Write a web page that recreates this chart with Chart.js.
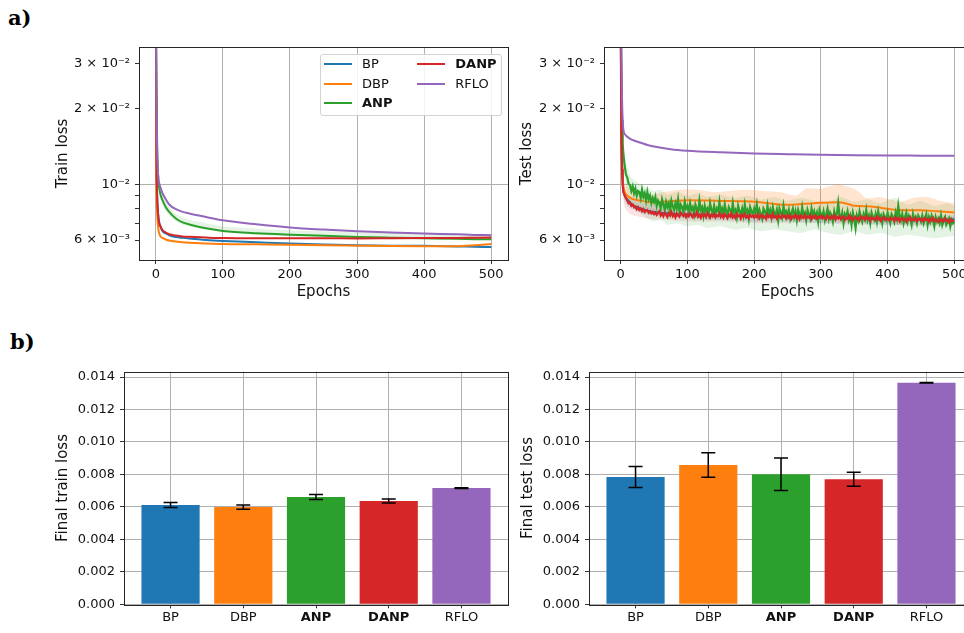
<!DOCTYPE html>
<html>
<head>
<meta charset="utf-8">
<script src="https://cdn.jsdelivr.net/npm/chart.js@4.4.0/dist/chart.umd.min.js"></script>
<style>
  html, body { margin: 0; padding: 0; background: #fff; overflow: hidden; width: 964px; height: 633px; }
  body { position: relative; font-family: "DejaVu Sans", sans-serif; }
  canvas { position: absolute; }
  .panel { position: absolute; font-family: "DejaVu Serif", serif; font-weight: bold; font-size: 21px; line-height: 21px; color: #000; }
  #legend { position: absolute; left: 320px; top: 54px; width: 180px; height: 60px; border: 1px solid #d4d4d4; border-radius: 3px; background: rgba(255,255,255,0.85); z-index: 5; }
  #legend .item { position: absolute; height: 16px; width: 90px; }
  #legend .handle { position: absolute; left: 3px; top: 7px; width: 28px; height: 2px; }
  #legend .lbl { position: absolute; left: 41px; top: 0; font-size: 13px; line-height: 16px; color: #111; white-space: nowrap; }
</style>
</head>
<body>
<div class="panel" style="left:8px;top:7px">a)</div>
<div class="panel" style="left:10px;top:331px">b)</div>
<canvas id="trainCurve" width="512" height="310" style="left:0;top:0"></canvas>
<canvas id="testCurve" width="495" height="310" style="left:480px;top:0"></canvas>
<canvas id="trainBar" width="512" height="313" style="left:0;top:320px"></canvas>
<canvas id="testBar" width="497" height="313" style="left:480px;top:320px"></canvas>
<div id="legend"></div>
<script>
// methods and colours
const methods = ['BP', 'DBP', 'ANP', 'DANP', 'RFLO'];
const boldMethods = ['ANP', 'DANP'];
const colors = ['#1f77b4', '#ff7f0e', '#2ca02c', '#d62728', '#9467bd'];
const bandColors = ['rgba(31,119,180,0.15)', 'rgba(255,127,14,0.2)', 'rgba(44,160,44,0.13)', 'rgba(214,39,40,0.13)', 'rgba(148,103,189,0.2)'];

// a) train loss curves
const trainEpochs = [0, 1, 2, 3, 4, 5, 7, 10, 15, 20, 30, 40, 50, 75, 100, 150, 200, 250, 300, 350, 400, 450, 475, 500];
const trainBP = [0.06, 0.014, 0.0092, 0.0080, 0.0074, 0.0071, 0.0068, 0.0065, 0.00637, 0.00627, 0.00617, 0.00612, 0.00608, 0.00600, 0.00595, 0.00588, 0.00581, 0.00576, 0.00572, 0.00570, 0.00569, 0.00566, 0.00564, 0.00563];
const trainDBP = [0.06, 0.011, 0.0078, 0.0070, 0.0066, 0.0064, 0.0062, 0.00612, 0.00603, 0.00597, 0.00592, 0.00588, 0.00586, 0.00582, 0.00579, 0.00577, 0.00575, 0.00572, 0.00570, 0.00568, 0.00567, 0.00567, 0.00572, 0.00579];
const trainANP = [0.07, 0.025, 0.0145, 0.0115, 0.0103, 0.0097, 0.0091, 0.00864, 0.00810, 0.00776, 0.00730, 0.00705, 0.00692, 0.00668, 0.00652, 0.00638, 0.00630, 0.00624, 0.00617, 0.00613, 0.00610, 0.00607, 0.00605, 0.00604];
const trainDANP = [0.06, 0.013, 0.0090, 0.0079, 0.0073, 0.0070, 0.0068, 0.00657, 0.00642, 0.00633, 0.00625, 0.00620, 0.00618, 0.00614, 0.00611, 0.00610, 0.00610, 0.00610, 0.00609, 0.00610, 0.00611, 0.00612, 0.00613, 0.00614];
const trainRFLO = [0.08, 0.022, 0.014, 0.0115, 0.0105, 0.0101, 0.0097, 0.0092, 0.0087, 0.0083, 0.00795, 0.00776, 0.00765, 0.00741, 0.00719, 0.00693, 0.00673, 0.00660, 0.00650, 0.00643, 0.00637, 0.00632, 0.00629, 0.00627];
const trainANPHigh = [0.07, 0.026, 0.0150, 0.0119, 0.0107, 0.0101, 0.0095, 0.0090, 0.0085, 0.0081, 0.0076, 0.0074, 0.0072, 0.0070, 0.0068, 0.00665, 0.00655, 0.00650, 0.00643, 0.00640, 0.00637, 0.00634, 0.00632, 0.00630];
const trainANPLow = [0.07, 0.024, 0.0140, 0.0111, 0.0099, 0.0093, 0.0087, 0.0083, 0.0078, 0.0075, 0.0071, 0.0069, 0.0068, 0.0066, 0.0065, 0.0063, 0.0062, 0.00615, 0.0061, 0.00605, 0.00603, 0.00601, 0.00600, 0.00599];

// a) test loss curves
const testEpochs = [0, 1, 2, 3, 4, 5, 7, 10, 15, 20, 30, 40, 50, 75, 100, 150, 200, 250, 300, 350, 400, 450, 500];
const testRFLO = [0.08, 0.035, 0.022, 0.0178, 0.0165, 0.0160, 0.0157, 0.0154, 0.0151, 0.0149, 0.0146, 0.0143, 0.0141, 0.01375, 0.01356, 0.01337, 0.01324, 0.01315, 0.01307, 0.01302, 0.01299, 0.01297, 0.01295];
const testBP = [0.05, 0.017, 0.0120, 0.0102, 0.0095, 0.0092, 0.0089, 0.0087, 0.0084, 0.0082, 0.0080, 0.00785, 0.00775, 0.00765, 0.00760, 0.00752, 0.00746, 0.00742, 0.00740, 0.00735, 0.00730, 0.00727, 0.00725];
const testBPHigh = [0.05, 0.018, 0.0128, 0.0108, 0.0100, 0.0097, 0.0093, 0.0090, 0.0088, 0.0087, 0.0085, 0.0084, 0.0083, 0.0081, 0.0080, 0.0079, 0.0078, 0.0077, 0.0077, 0.0076, 0.0076, 0.0075, 0.0075];
const testBPLow = [0.05, 0.016, 0.0112, 0.0096, 0.0090, 0.0087, 0.0084, 0.0082, 0.0080, 0.0079, 0.0077, 0.0076, 0.0075, 0.0074, 0.0073, 0.0072, 0.0071, 0.0071, 0.0070, 0.0070, 0.0069, 0.0069, 0.0069];
const testDANPHigh = [0.05, 0.017, 0.0125, 0.0106, 0.0099, 0.0095, 0.0091, 0.0088, 0.0085, 0.0084, 0.0082, 0.0081, 0.0080, 0.0079, 0.0078, 0.00775, 0.0077, 0.00765, 0.0076, 0.0075, 0.0075, 0.0074, 0.0074];
const testDANPLow = [0.05, 0.015, 0.0106, 0.0092, 0.0087, 0.0083, 0.0080, 0.0078, 0.0076, 0.0075, 0.0074, 0.0073, 0.00725, 0.0072, 0.0071, 0.0071, 0.0070, 0.0070, 0.0070, 0.0069, 0.0069, 0.0068, 0.0068];

const testDBPEpochs = [0, 1, 2, 3, 4, 5, 7, 10, 15, 20, 30, 40, 50, 75, 100, 150, 175, 200, 225, 250, 275, 300, 325, 340, 350, 375, 400, 425, 450, 475, 500];
const testDBP = [0.05, 0.018, 0.0125, 0.0105, 0.0098, 0.0095, 0.0092, 0.0090, 0.0088, 0.0087, 0.0086, 0.0085, 0.00848, 0.00855, 0.00864, 0.00858, 0.00855, 0.00852, 0.00838, 0.00828, 0.00835, 0.00843, 0.00847, 0.00835, 0.00820, 0.00815, 0.00798, 0.00788, 0.00788, 0.00780, 0.00772];
const testDBPBandEpochs = [5, 10, 20, 40, 64, 89, 114, 139, 164, 189, 214, 238, 263, 278, 300, 326, 353, 368, 388, 403, 420, 438, 460, 478, 500];
const testDBPHigh = [0.0102, 0.0098, 0.0094, 0.0090, 0.0093, 0.0095, 0.0095, 0.0093, 0.0094, 0.0095, 0.0094, 0.0093, 0.0090, 0.0096, 0.0096, 0.0100, 0.0095, 0.0088, 0.0089, 0.0087, 0.0085, 0.0088, 0.0089, 0.0086, 0.0084];
const testDBPLow = [0.0088, 0.0083, 0.0081, 0.0080, 0.0077, 0.0078, 0.0078, 0.0078, 0.0077, 0.0076, 0.0076, 0.0074, 0.0075, 0.0073, 0.0073, 0.0071, 0.0071, 0.0075, 0.0071, 0.0073, 0.0069, 0.0073, 0.0071, 0.0072, 0.0071];

// noisy curves, one value every 2 epochs after epoch 3
const testDenseEpochs = [0, 1, 2, 3];
for (let e = 4; e <= 500; e += 2) testDenseEpochs.push(e);
const testANP = [0.05, 0.028, 0.018, 0.0145,
  13.2e-3, 11.8e-3, 10.9e-3, 10.6e-3, 10.0e-3, 9.9e-3, 9.4e-3, 9.8e-3, 9.2e-3, 9.6e-3, 9.0e-3, 9.4e-3, 9.3e-3, 8.8e-3, 9.5e-3, 8.9e-3, 9.2e-3, 8.6e-3, 9.3e-3, 8.7e-3, 9.0e-3, 8.4e-3, 8.8e-3, 8.5e-3,
  8.9e-3, 8.2e-3, 8.6e-3, 8.4e-3, 8.0e-3, 8.7e-3, 8.3e-3, 7.9e-3, 8.5e-3, 8.1e-3, 8.4e-3, 7.8e-3, 8.6e-3, 8.2e-3, 7.9e-3, 8.4e-3, 8.0e-3, 8.7e-3, 7.8e-3, 8.3e-3, 8.1e-3, 7.7e-3, 8.5e-3, 8.0e-3, 8.2e-3,
  7.8e-3, 8.4e-3, 7.9e-3, 8.1e-3, 7.6e-3, 8.3e-3, 8.0e-3, 7.7e-3, 8.6e-3, 7.9e-3, 8.1e-3, 7.5e-3, 8.2e-3, 7.8e-3, 8.0e-3, 7.6e-3, 8.4e-3, 7.9e-3, 7.7e-3, 8.2e-3, 7.6e-3, 8.0e-3, 7.8e-3, 8.5e-3, 7.7e-3,
  8.0e-3, 7.6e-3, 8.3e-3, 7.8e-3, 7.5e-3, 8.1e-3, 7.9e-3, 7.6e-3, 8.4e-3, 7.7e-3, 7.9e-3, 7.4e-3, 8.2e-3, 7.8e-3, 7.6e-3, 8.0e-3, 7.5e-3, 8.3e-3, 7.7e-3, 7.9e-3, 7.3e-3, 8.1e-3, 7.8e-3, 7.6e-3, 8.0e-3,
  7.7e-3, 8.3e-3, 7.5e-3, 7.9e-3, 7.6e-3, 7.3e-3, 8.0e-3, 7.8e-3, 7.5e-3, 8.2e-3, 7.6e-3, 7.9e-3, 7.4e-3, 8.1e-3, 7.7e-3, 7.5e-3, 7.9e-3, 7.2e-3, 8.0e-3, 7.7e-3, 7.4e-3, 8.2e-3, 7.6e-3, 7.8e-3, 7.5e-3,
  7.9e-3, 7.3e-3, 7.7e-3, 8.0e-3, 7.4e-3, 7.8e-3, 7.2e-3, 7.9e-3, 7.6e-3, 7.4e-3, 8.1e-3, 7.5e-3, 7.7e-3, 7.2e-3, 7.9e-3, 7.6e-3, 7.3e-3, 8.0e-3, 7.5e-3, 7.8e-3, 7.4e-3, 7.7e-3, 7.1e-3, 7.9e-3, 7.6e-3,
  7.4e-3, 7.8e-3, 7.2e-3, 7.6e-3, 8.0e-3, 7.3e-3, 7.7e-3, 7.5e-3, 7.1e-3, 7.8e-3, 7.4e-3, 7.6e-3, 8.4e-3, 7.5e-3, 7.3e-3, 7.7e-3, 7.0e-3, 7.6e-3, 7.4e-3, 7.8e-3, 7.2e-3, 7.5e-3, 6.9e-3, 7.7e-3, 7.3e-3,
  6.7e-3, 7.5e-3, 7.2e-3, 7.8e-3, 7.4e-3, 7.1e-3, 7.6e-3, 7.3e-3, 7.9e-3, 7.2e-3, 7.5e-3, 7.0e-3, 7.7e-3, 7.4e-3, 7.2e-3, 7.6e-3, 7.1e-3, 7.8e-3, 7.3e-3, 7.5e-3, 7.0e-3, 7.6e-3, 7.4e-3, 7.2e-3, 7.7e-3,
  7.3e-3, 7.0e-3, 7.6e-3, 7.4e-3, 7.1e-3, 7.7e-3, 7.3e-3, 8.2e-3, 7.5e-3, 7.2e-3, 7.6e-3, 7.0e-3, 7.4e-3, 7.7e-3, 7.1e-3, 7.5e-3, 7.3e-3, 6.9e-3, 7.6e-3, 7.2e-3, 7.4e-3, 7.0e-3, 7.5e-3, 7.3e-3, 7.1e-3,
  7.5e-3, 7.0e-3, 7.3e-3, 7.6e-3, 6.9e-3, 7.4e-3, 7.1e-3, 7.5e-3, 7.2e-3, 6.8e-3, 7.4e-3, 7.1e-3, 7.3e-3, 7.0e-3, 7.5e-3, 6.9e-3, 7.2e-3, 7.4e-3, 6.9e-3, 7.1e-3, 7.3e-3, 6.8e-3, 7.2e-3, 7.0e-3, 7.1e-3];
const testDANP = [0.05, 0.016, 0.0115, 0.0099,
  9.3e-3, 9.0e-3, 8.8e-3, 8.6e-3, 8.4e-3, 8.45e-3, 8.2e-3, 8.3e-3, 8.1e-3, 8.15e-3, 7.95e-3, 8.1e-3, 7.9e-3, 8.0e-3, 7.8e-3, 7.95e-3, 7.75e-3, 7.85e-3, 7.9e-3, 7.7e-3, 7.8e-3, 7.65e-3, 7.75e-3, 7.6e-3,
  7.72e-3, 7.55e-3, 7.68e-3, 7.8e-3, 7.5e-3, 7.62e-3, 7.45e-3, 7.7e-3, 7.56e-3, 7.4e-3, 7.66e-3, 7.52e-3, 7.75e-3, 7.46e-3, 7.6e-3, 7.38e-3, 7.64e-3, 7.5e-3, 7.42e-3, 7.7e-3, 7.55e-3, 7.47e-3, 7.62e-3, 7.4e-3, 7.58e-3,
  7.45e-3, 7.66e-3, 7.5e-3, 7.38e-3, 7.6e-3, 7.48e-3, 7.72e-3, 7.42e-3, 7.55e-3, 7.35e-3, 7.62e-3, 7.46e-3, 7.58e-3, 7.4e-3, 7.68e-3, 7.5e-3, 7.36e-3, 7.57e-3, 7.44e-3, 7.62e-3, 7.38e-3, 7.52e-3, 7.45e-3, 7.65e-3, 7.4e-3,
  7.55e-3, 7.36e-3, 7.6e-3, 7.47e-3, 7.32e-3, 7.58e-3, 7.44e-3, 7.66e-3, 7.38e-3, 7.5e-3, 7.34e-3, 7.62e-3, 7.45e-3, 7.53e-3, 7.3e-3, 7.56e-3, 7.42e-3, 7.6e-3, 7.37e-3, 7.48e-3, 7.33e-3, 7.57e-3, 7.43e-3, 7.5e-3, 7.35e-3,
  7.52e-3, 7.4e-3, 7.6e-3, 7.32e-3, 7.47e-3, 7.55e-3, 7.36e-3, 7.44e-3, 7.28e-3, 7.58e-3, 7.41e-3, 7.5e-3, 7.34e-3, 7.62e-3, 7.38e-3, 7.46e-3, 7.3e-3, 7.54e-3, 7.4e-3, 7.33e-3, 7.56e-3, 7.42e-3, 7.48e-3, 7.3e-3, 7.5e-3,
  7.36e-3, 7.52e-3, 7.28e-3, 7.45e-3, 7.38e-3, 7.55e-3, 7.32e-3, 7.47e-3, 7.26e-3, 7.5e-3, 7.4e-3, 7.34e-3, 7.56e-3, 7.3e-3, 7.44e-3, 7.37e-3, 7.52e-3, 7.27e-3, 7.46e-3, 7.35e-3, 7.5e-3, 7.29e-3, 7.42e-3, 7.36e-3, 7.48e-3,
  7.3e-3, 7.45e-3, 7.34e-3, 7.25e-3, 7.5e-3, 7.38e-3, 7.28e-3, 7.46e-3, 7.33e-3, 7.52e-3, 7.24e-3, 7.4e-3, 7.31e-3, 7.47e-3, 7.26e-3, 7.38e-3, 7.44e-3, 7.22e-3, 7.36e-3, 7.3e-3, 7.48e-3, 7.25e-3, 7.4e-3, 7.2e-3, 7.34e-3,
  7.42e-3, 7.26e-3, 7.35e-3, 7.18e-3, 7.44e-3, 7.3e-3, 7.38e-3, 7.22e-3, 7.46e-3, 7.28e-3, 7.34e-3, 7.16e-3, 7.4e-3, 7.27e-3, 7.32e-3, 7.2e-3, 7.42e-3, 7.24e-3, 7.36e-3, 7.15e-3, 7.3e-3, 7.38e-3, 7.21e-3, 7.33e-3, 7.25e-3,
  7.18e-3, 7.36e-3, 7.24e-3, 7.3e-3, 7.14e-3, 7.38e-3, 7.22e-3, 7.33e-3, 7.12e-3, 7.28e-3, 7.35e-3, 7.2e-3, 7.26e-3, 7.1e-3, 7.32e-3, 7.22e-3, 7.37e-3, 7.16e-3, 7.27e-3, 7.2e-3, 7.34e-3, 7.12e-3, 7.25e-3, 7.3e-3, 7.17e-3,
  7.28e-3, 7.14e-3, 7.33e-3, 7.2e-3, 7.26e-3, 7.1e-3, 7.3e-3, 7.18e-3, 7.35e-3, 7.12e-3, 7.24e-3, 7.19e-3, 7.08e-3, 7.28e-3, 7.15e-3, 7.22e-3, 7.1e-3, 7.3e-3, 7.16e-3, 7.2e-3, 7.06e-3, 7.25e-3, 7.12e-3, 7.18e-3, 7.14e-3];
const testANPBandEpochs = [4, 8, 12, 16, 24, 32, 40, 50, 60, 70, 85, 100, 115, 130, 150, 170, 190, 210, 230, 250, 270, 290, 310, 330, 350, 370, 390, 410, 430, 450, 470, 490, 500];
const testANPHigh = [0.0140, 0.0120, 0.0112, 0.0106, 0.0102, 0.0099, 0.0097, 0.0094, 0.0095, 0.0091, 0.0093, 0.0090, 0.0092, 0.0089, 0.0091, 0.0088, 0.0090, 0.0087, 0.0089, 0.0086, 0.0088, 0.0086, 0.0085, 0.0089, 0.0085, 0.0087, 0.0084, 0.0088, 0.0083, 0.0086, 0.0082, 0.0084, 0.0082];
const testANPLow = [0.0118, 0.0098, 0.0088, 0.0082, 0.0079, 0.0076, 0.0073, 0.0071, 0.0072, 0.0069, 0.0070, 0.0068, 0.0069, 0.0067, 0.0068, 0.0066, 0.0067, 0.0065, 0.0066, 0.0065, 0.0064, 0.0066, 0.0064, 0.0063, 0.0065, 0.0063, 0.0064, 0.0062, 0.0063, 0.0062, 0.0061, 0.0062, 0.0062];

// axis ticks
const epochTicks = [0, 100, 200, 300, 400, 500];
const logTickValues = [6e-3, 7e-3, 8e-3, 9e-3, 1e-2, 2e-2, 3e-2];
const logTickLabels = ['6 × 10⁻³', '', '', '', '10⁻²', '2 × 10⁻²', '3 × 10⁻²'];

// b) final losses with error bars
const trainFinal = [0.00612, 0.00599, 0.00661, 0.00636, 0.00716];
const trainErr = [0.00015, 0.00013, 0.00016, 0.00012, 0.00002];
const testFinal = [0.00784, 0.00858, 0.00801, 0.00770, 0.01365];
const testErr = [0.00065, 0.00076, 0.00100, 0.00043, 0.00002];
const barTicks = [0, 0.002, 0.004, 0.006, 0.008, 0.010, 0.012, 0.014];

const FONT = '"DejaVu Sans", sans-serif';
const gridColor = '#b0b0b0';
const tickFont = { family: FONT, size: 13 };
const titleFont = { family: FONT, size: 15 };

const pts = (xs, ys) => xs.map((x, i) => ({ x: x, y: ys[i] }));

// frame around the plot area (matplotlib spines)
const framePlugin = {
  id: 'frame',
  afterDraw(chart) {
    const a = chart.chartArea, c = chart.ctx;
    c.save();
    c.strokeStyle = '#262626';
    c.lineWidth = 1;
    c.strokeRect(Math.round(a.left) + 0.5, Math.round(a.top) + 0.5, Math.round(a.right - a.left), Math.round(a.bottom - a.top));
    c.restore();
  }
};

const errorBarPlugin = {
  id: 'errorBars',
  afterDatasetsDraw(chart, args, opts) {
    const errs = opts.errors;
    if (!errs) return;
    const meta = chart.getDatasetMeta(0), ys = chart.scales.y, c = chart.ctx;
    const vals = chart.data.datasets[0].data;
    c.save();
    c.strokeStyle = '#000';
    c.lineWidth = 1.5;
    meta.data.forEach((bar, i) => {
      const v = vals[i].y;
      const top = ys.getPixelForValue(v + errs[i]);
      const bot = ys.getPixelForValue(v - errs[i]);
      c.beginPath();
      c.moveTo(bar.x, top); c.lineTo(bar.x, bot);
      c.moveTo(bar.x - 7, top); c.lineTo(bar.x + 7, top);
      c.moveTo(bar.x - 7, bot); c.lineTo(bar.x + 7, bot);
      c.stroke();
    });
    c.restore();
  }
};

function line(label, xs, ys, color, order, smooth) {
  return {
    label: label, data: pts(xs, ys), borderColor: color, borderWidth: smooth ? 2 : 2.2,
    pointRadius: 0, fill: false, order: order,
    cubicInterpolationMode: smooth ? 'monotone' : 'default', tension: 0
  };
}

function addBand(list, xs, lo, hi, color) {
  list.push({ data: pts(xs, lo), borderWidth: 0, borderColor: 'transparent', pointRadius: 0, fill: false, order: 10, tension: 0.2 });
  list.push({ data: pts(xs, hi), borderWidth: 0, borderColor: 'transparent', pointRadius: 0, fill: { target: list.length - 1 }, backgroundColor: color, order: 10, tension: 0.2 });
}

function curveOptions(yTitle, yWidth, yTitlePad) {
  return {
    responsive: false, animation: false, devicePixelRatio: 1,
    layout: { padding: { top: 47, right: 4, bottom: 0, left: 0 } },
    plugins: { legend: { display: false }, tooltip: { enabled: false } },
    scales: {
      x: {
        type: 'linear', min: -25, max: 525,
        afterBuildTicks: s => { s.ticks = epochTicks.map(v => ({ value: v })); },
        afterFit: s => { s.height = 50; },
        ticks: { autoSkip: false, maxRotation: 0, font: tickFont, color: '#111', padding: 3, callback: v => String(v) },
        grid: { color: gridColor, tickColor: '#333', tickLength: 4 },
        border: { display: false },
        title: { display: true, text: 'Epochs', font: titleFont, color: '#111', padding: { top: 0, bottom: 9 } }
      },
      y: {
        type: 'logarithmic', min: 5e-3, max: 3.5e-2,
        afterBuildTicks: s => { s.ticks = logTickValues.map(v => ({ value: v })); },
        afterFit: s => { s.width = yWidth; },
        ticks: {
          autoSkip: false, font: tickFont, color: '#111', padding: 5,
          callback: v => { const i = logTickValues.indexOf(v); return i >= 0 ? logTickLabels[i] : ''; }
        },
        grid: { color: c => (c.tick && c.tick.value === 1e-2) ? gridColor : 'transparent', tickColor: '#333', tickLength: 4 },
        border: { display: false },
        title: { display: true, text: yTitle, font: titleFont, color: '#111', padding: { top: yTitlePad, bottom: 0 } }
      }
    }
  };
}

function barOptions(yTitle, yWidth, yTitlePad, errs) {
  return {
    responsive: false, animation: false, devicePixelRatio: 1,
    layout: { padding: { top: 51.7, right: 4, bottom: 0, left: 0 } },
    plugins: { legend: { display: false }, tooltip: { enabled: false }, errorBars: { errors: errs } },
    scales: {
      x: {
        type: 'linear', min: -0.64, max: 4.64, offset: false,
        afterBuildTicks: s => { s.ticks = methods.map((m, i) => ({ value: i })); },
        afterFit: s => { s.height = 28.7; },
        ticks: {
          autoSkip: false, maxRotation: 0, color: '#111', padding: 2,
          font: c => ({ family: FONT, size: 13, weight: (c.tick && boldMethods.includes(methods[c.tick.value])) ? 'bold' : 'normal' }),
          callback: v => methods[v]
        },
        grid: { color: gridColor, tickColor: '#333', tickLength: 4, offset: false },
        border: { display: false }
      },
      y: {
        min: 0, max: 0.01433,
        afterBuildTicks: s => { s.ticks = barTicks.map(v => ({ value: v })); },
        afterFit: s => { s.width = yWidth; },
        ticks: { autoSkip: false, font: tickFont, color: '#111', padding: 5, callback: v => v.toFixed(3) },
        grid: { color: gridColor, tickColor: '#333', tickLength: 4 },
        border: { display: false },
        title: { display: true, text: yTitle, font: titleFont, color: '#111', padding: { top: yTitlePad, bottom: 0 } }
      }
    }
  };
}

// train curves: lines on top (lower order drawn last), bands underneath
const trainSets = [
  line('BP', trainEpochs, trainBP, colors[0], 4, true),
  line('DBP', trainEpochs, trainDBP, colors[1], 3, true),
  line('ANP', trainEpochs, trainANP, colors[2], 2, true),
  line('DANP', trainEpochs, trainDANP, colors[3], 1, true),
  line('RFLO', trainEpochs, trainRFLO, colors[4], 0, true)
];
addBand(trainSets, trainEpochs, trainANPLow, trainANPHigh, bandColors[2]);

new Chart(document.getElementById('trainCurve'), {
  type: 'line',
  data: { datasets: trainSets },
  options: curveOptions('Train loss', 139, 54),
  plugins: [framePlugin]
});

const testSets = [
  line('BP', testEpochs, testBP, colors[0], 4, true),
  line('DBP', testDBPEpochs, testDBP, colors[1], 3, true),
  line('ANP', testDenseEpochs, testANP, colors[2], 2, false),
  line('DANP', testDenseEpochs, testDANP, colors[3], 1, false),
  line('RFLO', testEpochs, testRFLO, colors[4], 0, true)
];
addBand(testSets, testEpochs, testBPLow, testBPHigh, bandColors[0]);
addBand(testSets, testDBPBandEpochs, testDBPLow, testDBPHigh, bandColors[1]);
addBand(testSets, testANPBandEpochs, testANPLow, testANPHigh, bandColors[2]);
addBand(testSets, testEpochs, testDANPLow, testDANPHigh, bandColors[3]);

new Chart(document.getElementById('testCurve'), {
  type: 'line',
  data: { datasets: testSets },
  options: curveOptions('Test loss', 124, 38),
  plugins: [framePlugin]
});

function barData(vals) {
  return {
    datasets: [{
      data: vals.map((v, i) => ({ x: i, y: v })),
      backgroundColor: colors, borderWidth: 0,
      barPercentage: 1, categoryPercentage: 0.8
    }]
  };
}

new Chart(document.getElementById('trainBar'), {
  type: 'bar',
  data: barData(trainFinal),
  options: barOptions('Final train loss', 124, 54.5, trainErr),
  plugins: [framePlugin, errorBarPlugin]
});

new Chart(document.getElementById('testBar'), {
  type: 'bar',
  data: barData(testFinal),
  options: barOptions('Final test loss', 109, 39, testErr),
  plugins: [framePlugin, errorBarPlugin]
});

// legend (two columns, column-major like matplotlib ncol=2)
const legend = document.getElementById('legend');
methods.forEach((m, i) => {
  const col = i < 3 ? 0 : 1, row = i < 3 ? i : i - 3;
  const item = document.createElement('div');
  item.className = 'item';
  item.style.left = (col * 93.3) + 'px';
  item.style.top = (1.3 + row * 19.4) + 'px';
  const handle = document.createElement('span');
  handle.className = 'handle';
  handle.style.background = colors[i];
  const lbl = document.createElement('span');
  lbl.className = 'lbl';
  lbl.textContent = m;
  lbl.style.fontWeight = boldMethods.includes(m) ? 'bold' : 'normal';
  item.appendChild(handle);
  item.appendChild(lbl);
  legend.appendChild(item);
});
</script>
</body>
</html>
